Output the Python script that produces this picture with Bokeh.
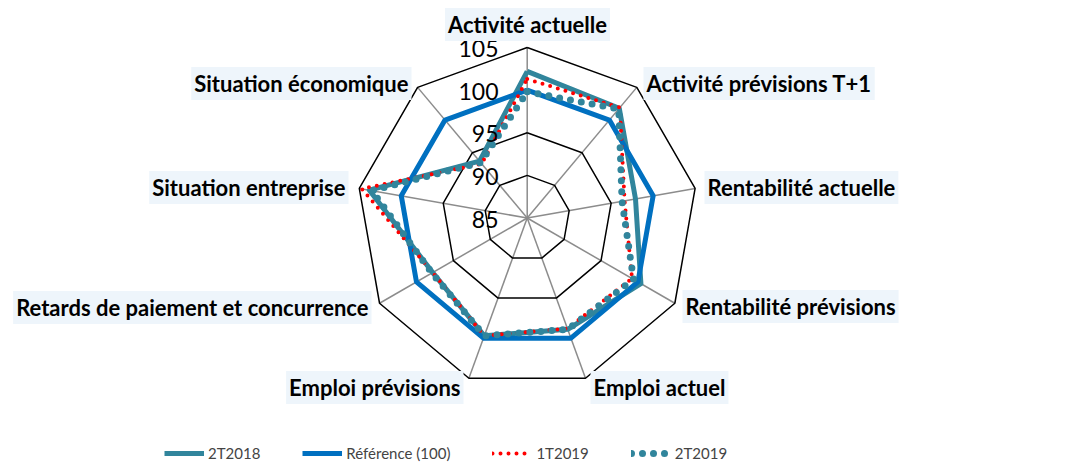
import numpy as np
from bokeh.plotting import figure
from bokeh.models import Range1d, Label, Legend, LegendItem
from bokeh.embed import file_html
from bokeh.resources import INLINE

# ---------------- data ----------------
categories = ["Activité actuelle", "Activité prévisions T+1", "Rentabilité actuelle",
              "Rentabilité prévisions", "Emploi actuel", "Emploi prévisions",
              "Retards de paiement et concurrence", "Situation entreprise",
              "Situation économique"]
s_2t2018 = [102.2, 101.8, 97.9, 100.4, 98.9, 99.7, 97.8, 103.8, 93.7]
s_ref = [100, 100, 100, 100, 100, 100, 100, 100, 100]
s_1t2019 = [101.3, 101.9, 96.6, 99.2, 98.8, 99.7, 97.8, 104.7, 93.3]
s_2t2019 = [99.8, 101.7, 96.3, 99.4, 98.9, 99.7, 97.9, 103.5, 93.5]
series_names = ["2T2018", "Référence (100)", "1T2019", "2T2019"]
ticks = [85, 90, 95, 100, 105]
tick_labels = ["85", "90", "95", "100", "105"]

# ---------------- layout ----------------
W, H = 1083, 466
CX, CY, RAD = 526.7, 217.5, 170.5
VMIN, VMAX = 85.0, 105.0
N = len(categories)
ang = np.arange(N) * 2 * np.pi / N


def polar(vals, close=True):
    v = np.asarray(vals, dtype=float)
    r = (v - VMIN) / (VMAX - VMIN) * RAD
    x = CX + r * np.sin(ang)
    y = CY - r * np.cos(ang)
    if close:
        x = np.append(x, x[0])
        y = np.append(y, y[0])
    return x, y


p = figure(width=W, height=H, output_backend="svg", toolbar_location=None,
           x_range=Range1d(0, W), y_range=Range1d(H, 0), min_border=0,
           x_axis_location=None, y_axis_location=None)
p.title.visible = False
p.grid.visible = False
p.outline_line_color = None
p.background_fill_color = "white"
p.border_fill_color = "white"

# spokes
ox, oy = polar([VMAX] * N, close=False)
for i in range(N):
    p.line([CX, ox[i]], [CY, oy[i]], line_color="#8c8c8c", line_width=1.5)
# rings
for t in ticks[1:]:
    rx, ry = polar([t] * N)
    p.line(rx, ry, line_color="black", line_width=1.5)

# tick labels
for t, lab in zip(ticks, tick_labels):
    r = (t - VMIN) / (VMAX - VMIN) * RAD
    p.add_layout(Label(x=498, y=CY - r + 1, text=lab, text_font="Lato",
                       text_font_size="23px", text_align="right",
                       text_baseline="middle", text_color="black"))

# series
x, y = polar(s_2t2018)
r1 = p.line(x, y, line_color="#31859C", line_width=5, line_join="round")
x, y = polar(s_ref)
r2 = p.line(x, y, line_color="#0070C0", line_width=5, line_join="round")
x, y = polar(s_1t2019)
r3 = p.line(x, y, line_color="#FF0000", line_width=4, line_dash="0 8",
            line_cap="round")
x, y = polar(s_2t2019)
r4 = p.line(x, y, line_color="#31859C", line_width=7, line_dash="0 11",
            line_cap="round")

# category labels
lab_pos = [(527, 24, "center"), (643, 83, "left"), (704, 187, "left"),
           (682, 306, "left"), (590, 387, "left"), (463, 387, "right"),
           (371, 307, "right"), (348, 187, "right"), (411, 83, "right")]
for c, (lx, ly, al) in zip(categories, lab_pos):
    p.add_layout(Label(x=lx, y=ly, text=c, text_font="Lato", text_font_style="bold",
                       text_font_size="22px", text_align=al, text_baseline="middle",
                       text_color="black", background_fill_color="#EEF5FB",
                       padding=3))

legend = Legend(items=[LegendItem(label=n, renderers=[r])
                       for n, r in zip(series_names, [r1, r2, r3, r4])],
                orientation="horizontal", location=(164, 4), glyph_width=40,
                glyph_height=14, label_standoff=4, spacing=42, padding=0, margin=0,
                border_line_alpha=0, background_fill_alpha=0,
                label_text_font="Lato", label_text_font_size="15px",
                label_height=14)
p.add_layout(legend)

open("out.html", "w").write(file_html(p, INLINE))
